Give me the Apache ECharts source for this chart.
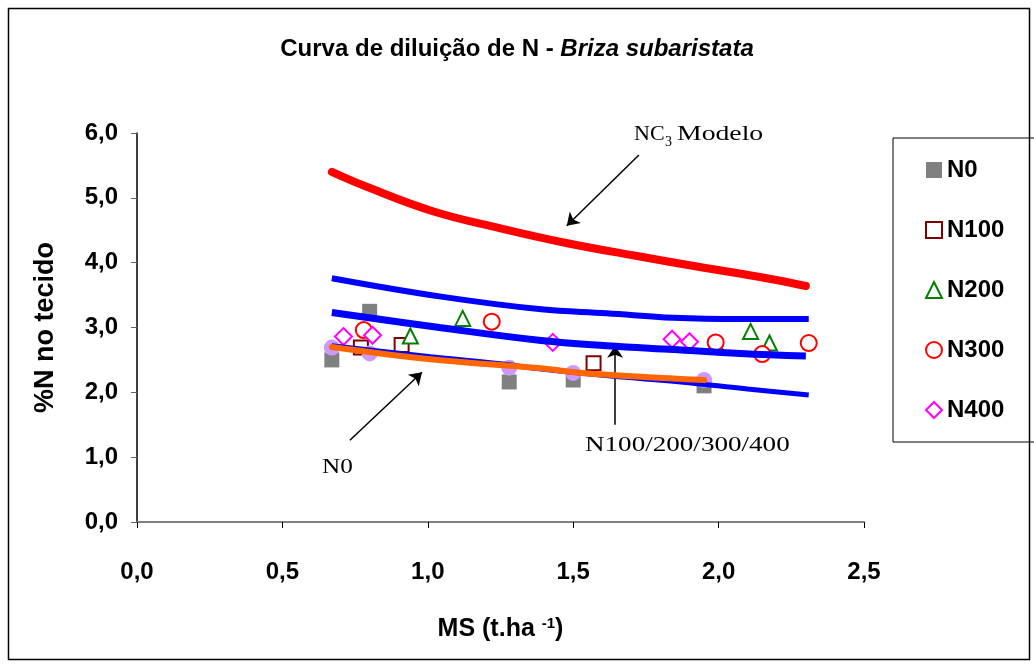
<!DOCTYPE html>
<html>
<head>
<meta charset="utf-8">
<script src="https://cdn.jsdelivr.net/npm/echarts@6/dist/echarts.min.js"></script>
<style>
html,body{margin:0;padding:0;background:#fff;}
#chart{width:1034px;height:664px;}
</style>
</head>
<body>
<div id="chart"></div>
<script>
// ---- data ----
var xTicks = [0, 0.5, 1.0, 1.5, 2.0, 2.5];
var yTicks = [0, 1, 2, 3, 4, 5, 6];

var seriesNames = ['N0', 'N100', 'N200', 'N300', 'N400'];

var n0 = [[0.67, 2.50], [0.80, 3.25], [1.28, 2.16], [1.50, 2.19], [1.95, 2.10]];
var n0Fit = [[0.67, 2.69], [0.80, 2.60], [1.28, 2.38], [1.50, 2.30], [1.95, 2.19]];
var n100 = [[0.77, 2.69], [0.91, 2.73], [1.57, 2.45]];
var n200 = [[0.94, 2.87], [1.12, 3.14], [1.99, 2.76], [2.11, 2.94], [2.175, 2.76]];
var n300 = [[0.78, 2.96], [1.22, 3.09], [1.99, 2.77], [2.15, 2.59], [2.31, 2.76]];
var n400 = [[0.71, 2.86], [0.81, 2.88], [1.43, 2.77], [1.84, 2.82], [1.90, 2.78]];

var nc3Model = [[0.67, 5.40], [0.79, 5.17], [1.02, 4.79], [1.25, 4.53], [1.48, 4.30],
                [1.71, 4.11], [1.94, 3.93], [2.165, 3.76], [2.30, 3.64]];
var blueUpper = [[0.67, 3.76], [1.04, 3.48], [1.39, 3.28], [1.615, 3.22], [1.845, 3.15],
                 [2.075, 3.13], [2.31, 3.13]];
var blueMiddle = [[0.67, 3.23], [1.04, 3.00], [1.39, 2.80], [1.615, 2.72], [1.845, 2.66],
                  [2.075, 2.60], [2.30, 2.56]];
var blueLower = [[0.67, 2.72], [1.01, 2.55], [1.25, 2.44], [1.39, 2.36], [1.63, 2.25],
                 [1.87, 2.16], [2.10, 2.05], [2.31, 1.96]];
var n0Curve = [[0.67, 2.70], [1.01, 2.51], [1.39, 2.37], [1.53, 2.30], [1.95, 2.19]];

// annotation arrows (data coordinates): [start, end]
var arrowNC3 = [[1.726, 5.66], [1.478, 4.57]];
var arrowN0 = [[0.732, 1.26], [0.980, 2.31]];
var arrowN100 = [[1.644, 1.50], [1.644, 2.72]];

var SANS = '"Liberation Sans", Arial, sans-serif';
var SERIF = '"Liberation Serif", "Times New Roman", serif';

function fmt(v) { return v.toFixed(1).replace('.', ','); }

var chart = echarts.init(document.getElementById('chart'), null, {renderer: 'canvas'});

function scatter(name, data, symbol, size, color, border, z) {
  return {
    name: name, type: 'scatter', data: data, symbol: symbol, symbolSize: size,
    itemStyle: {color: color, borderColor: border, borderWidth: border ? 2 : 0, opacity: 1},
    z: z, emphasis: {disabled: true}
  };
}
function curve(name, data, color, width, cap, z) {
  return {
    name: name, type: 'line', data: data, smooth: 0.4,
    showSymbol: false, symbol: 'none',
    lineStyle: {color: color, width: width, cap: cap}, z: z, silent: true,
    emphasis: {disabled: true}
  };
}
function arrow(coords) {
  return {
    type: 'line', data: [], silent: true, z: 20,
    markLine: {
      silent: true, animation: false,
      symbol: ['none', 'arrow'], symbolSize: 12,
      itemStyle: {color: '#000'},
      lineStyle: {color: '#000', width: 1.5, type: 'solid'},
      label: {show: false},
      data: [[{coord: coords[0]}, {coord: coords[1]}]]
    }
  };
}

var option = {
  animation: false,
  backgroundColor: '#fff',
  title: {
    text: '{b|Curva de diluição de N - }{i|Briza subaristata}',
    left: 'center', top: 32,
    textStyle: {
      rich: {
        b: {fontFamily: SANS, fontWeight: 'bold', fontSize: 24, color: '#000'},
        i: {fontFamily: SANS, fontStyle: 'italic', fontSize: 24, color: '#000'}
      }
    }
  },
  legend: {
    data: seriesNames,
    orient: 'vertical',
    left: 893, top: 138,
    padding: [20, 60, 20, 32],
    itemWidth: 16, itemHeight: 16, itemGap: 36,
    borderColor: '#000', borderWidth: 1,
    selectedMode: false,
    textStyle: {fontFamily: SANS, fontWeight: 'bold', fontSize: 24, color: '#000'}
  },
  grid: {left: 137, right: 170, top: 133, bottom: 142, containLabel: false},
  xAxis: {
    type: 'value', min: 0, max: 2.5, interval: 0.5,
    name: '{a|MS (t.ha }{s|-1}{a|)}',
    nameLocation: 'middle', nameGap: 94,
    nameTextStyle: {
      rich: {
        a: {fontFamily: SANS, fontWeight: 'bold', fontSize: 25, color: '#000'},
        s: {fontFamily: SANS, fontWeight: 'bold', fontSize: 15, color: '#000', verticalAlign: 'top', padding: [0, 0, 12, 0]}
      }
    },
    axisLine: {show: true, onZero: false, lineStyle: {color: '#808080', width: 2}},
    axisTick: {show: true, inside: false, length: 6, lineStyle: {color: '#000', width: 1}},
    splitLine: {show: false},
    axisLabel: {margin: 38, fontFamily: SANS, fontWeight: 'bold', fontSize: 24, color: '#000',
      formatter: function (v) { return fmt(v); }}
  },
  yAxis: {
    type: 'value', min: 0, max: 6, interval: 1,
    name: '%N no tecido', nameLocation: 'middle', nameGap: 78, nameRotate: 90,
    nameTextStyle: {fontFamily: SANS, fontWeight: 'bold', fontSize: 27, color: '#000'},
    axisLine: {show: true, onZero: false, lineStyle: {color: '#000', width: 1.5}},
    axisTick: {show: true, inside: false, length: 6, lineStyle: {color: '#666', width: 1}},
    splitLine: {show: false},
    axisLabel: {margin: 19, fontFamily: SANS, fontWeight: 'bold', fontSize: 24, color: '#000',
      formatter: function (v) { return fmt(v); }}
  },
  graphic: [
    {type: 'rect', shape: {x: 8.5, y: 8.5, width: 1021, height: 651}, style: {fill: 'none', stroke: '#000', lineWidth: 1.5}, silent: true, z: 100},
    {type: 'text', x: 634, y: 124, scaleX: 1.05, style: {text: 'NC', font: '21px ' + SERIF, fill: '#000'}},
    {type: 'text', x: 665, y: 135, style: {text: '3', font: '14px ' + SERIF, fill: '#000'}},
    {type: 'text', x: 677, y: 124, scaleX: 1.32, style: {text: 'Modelo', font: '21px ' + SERIF, fill: '#000'}},
    {type: 'text', x: 322, y: 457, scaleX: 1.2, style: {text: 'N0', font: '21px ' + SERIF, fill: '#000'}},
    {type: 'text', x: 585, y: 435, scaleX: 1.29, style: {text: 'N100/200/300/400', font: '21px ' + SERIF, fill: '#000'}}
  ],
  series: [
    scatter('N0', n0, 'rect', 15, '#808080', null, 2),
    scatter('N100', n100, 'rect', 14, '#fff', '#800000', 3),
    scatter('N200', n200, 'triangle', 15, '#fff', '#008000', 3),
    scatter('N300', n300, 'circle', 16, '#fff', '#ff0000', 3),
    scatter('N400', n400, 'diamond', 17, '#fff', '#ff00ff', 3),
    scatter('N0 ajuste', n0Fit, 'circle', 16, '#cc99ff', null, 4),
    curve('NC3 Modelo', nc3Model, '#ff0000', 8, 'round', 6),
    curve('N100/200/300/400 sup', blueUpper, '#0000ff', 6, 'butt', 6),
    curve('N100/200/300/400', blueMiddle, '#0000ff', 7, 'butt', 6),
    curve('N0 inf', blueLower, '#0000ff', 5, 'butt', 6),
    curve('N0 curva', n0Curve, '#ff6600', 6, 'round', 7),
    arrow(arrowNC3),
    arrow(arrowN0),
    arrow(arrowN100)
  ]
};
chart.setOption(option);
</script>
</body>
</html>
